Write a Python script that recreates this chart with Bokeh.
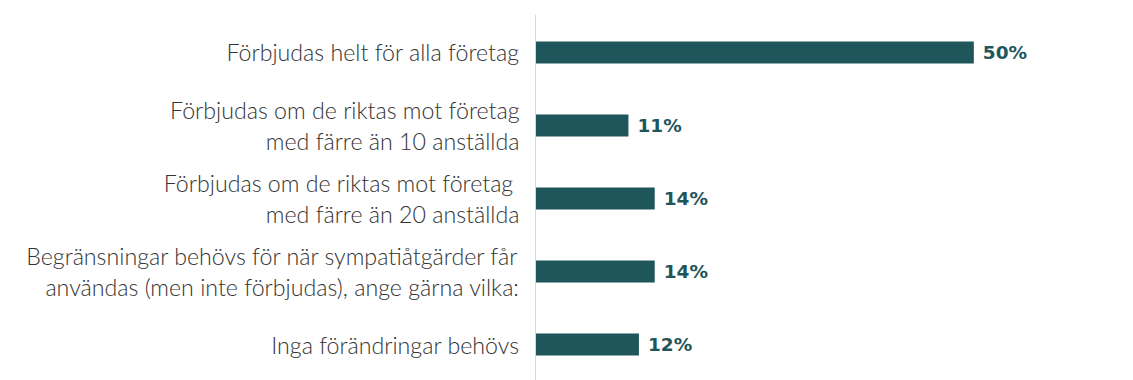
from bokeh.plotting import figure
from bokeh.models import Range1d, ColumnDataSource, LabelSet, FixedTicker
from bokeh.core.properties import value
from bokeh.embed import file_html
from bokeh.resources import INLINE

categories = [
    "Förbjudas helt för alla företag",
    "Förbjudas om de riktas mot företag\nmed färre än 10 anställda",
    "Förbjudas om de riktas mot företag \nmed färre än 20 anställda",
    "Begränsningar behövs för när sympatiåtgärder får\nanvändas (men inte förbjudas), ange gärna vilka:",
    "Inga förändringar behövs",
]
values = [50, 10.6, 13.6, 13.6, 11.8]
value_labels = ["50%", "11%", "14%", "14%", "12%"]
positions = list(range(len(categories)))

BAR = "#1f565c"

src = ColumnDataSource(dict(y=positions, v=values, lab=value_labels))

p = figure(width=1133, height=380, output_backend="svg", toolbar_location=None,
           x_range=Range1d(0, 60), y_range=Range1d(4.493, -0.52),
           frame_width=526, frame_height=366,
           min_border_left=535, min_border_right=72, min_border_top=14, min_border_bottom=0)
p.outline_line_color = None
p.xgrid.visible = False
p.ygrid.visible = False
p.xaxis.visible = False
p.background_fill_color = "white"
p.border_fill_color = "white"

yax = p.yaxis[0]
yax.ticker = FixedTicker(ticks=positions)
yax.major_label_overrides = {pos: cat for pos, cat in zip(positions, categories)}
yax.axis_line_color = "#d9d9d9"
yax.axis_line_width = 1
yax.major_tick_line_color = None
yax.minor_tick_line_color = None
yax.major_label_standoff = 10
yax.major_label_text_font = "'Lato Light', Lato"
yax.major_label_text_font_size = "23.2px"
yax.major_label_text_color = "#333333"
yax.major_label_text_line_height = 1.12

p.hbar(y="y", left=0, right="v", height=0.30, source=src, color=BAR, line_color=None)

val_labels = LabelSet(x="v", y="y", text="lab", source=src, x_offset=9,
                      text_align="left", text_baseline="middle", text_font=value("DejaVu Sans"),
                      text_font_style="bold", text_font_size="18.5px", text_color=BAR)
p.add_layout(val_labels)

open("out.html", "w").write(file_html(p, INLINE))
